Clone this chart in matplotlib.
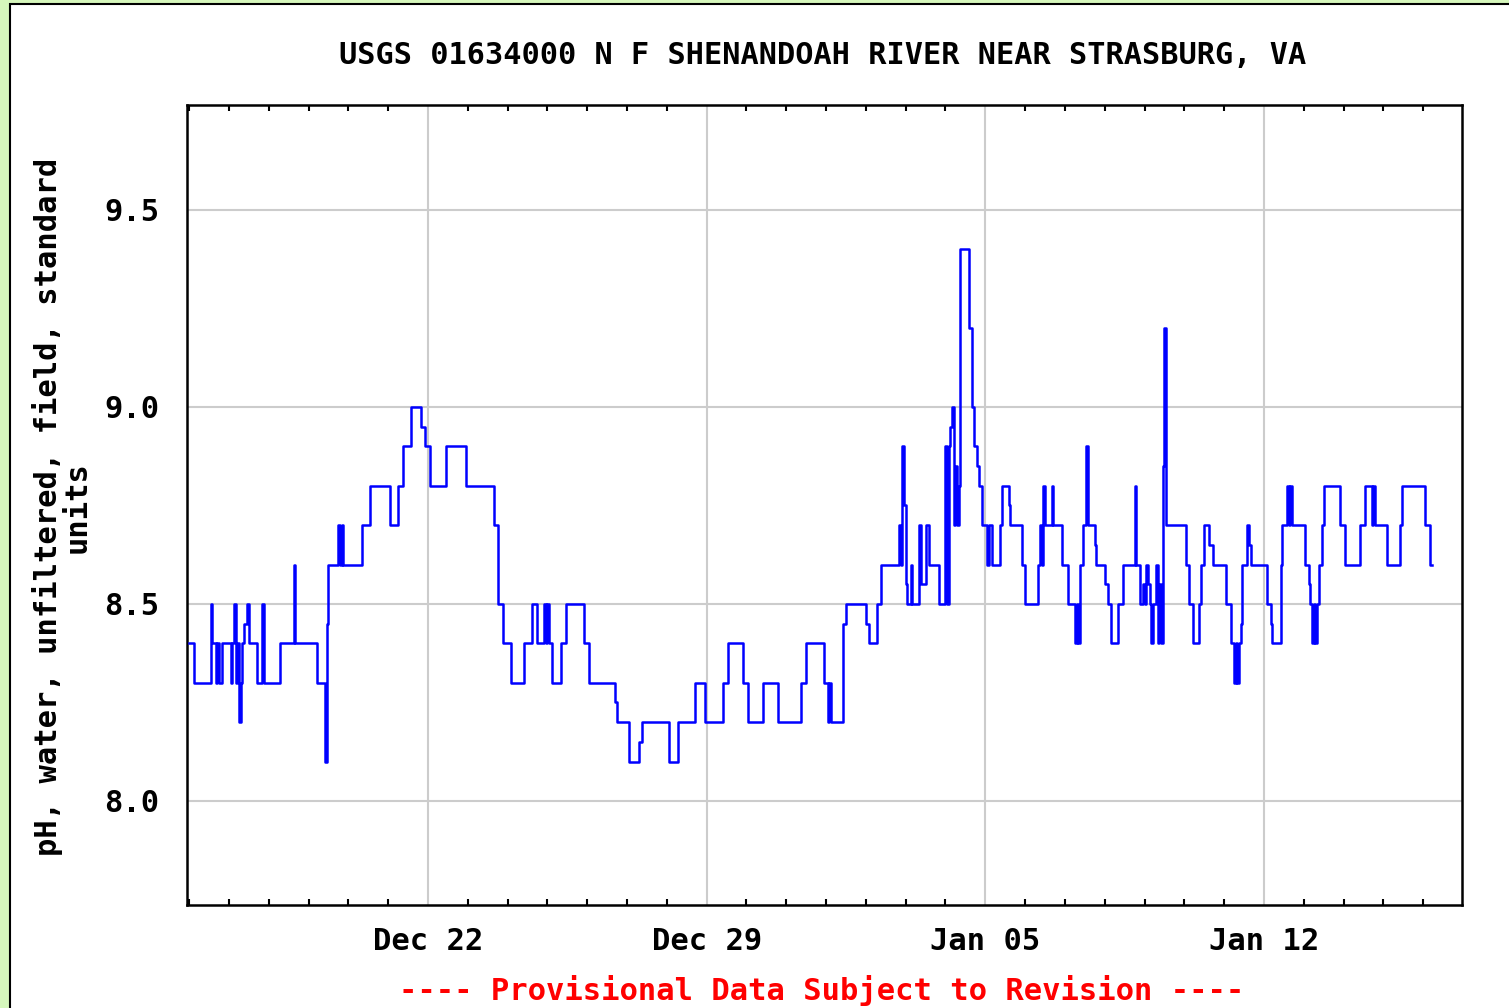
import pandas as pd
import matplotlib
matplotlib.use("Agg")
import matplotlib.pyplot as plt
import matplotlib.dates as mdates
from matplotlib.patches import Rectangle

# chart text
title = "USGS 01634000 N F SHENANDOAH RIVER NEAR STRASBURG, VA"
ylabel = "pH, water, unfiltered, field, standard\nunits"
footer = "---- Provisional Data Subject to Revision ----"

start = pd.Timestamp("2013-12-16 00:00")

# hours since start where the reading changes, and the reading from then on
hours = [0, 3, 13, 14, 16, 17, 18, 20, 25, 26, 27, 28, 29, 30, 31, 32, 33, 35, 36, 41,
         44, 45, 55, 63, 64, 77, 82, 83, 84, 90, 91, 92, 93, 104, 109, 121, 126, 129, 134, 140,
         142, 145, 155, 167, 184, 186, 189, 194, 202, 207, 210, 214, 215, 216, 217, 219, 224, 227, 238, 241,
         257, 258, 265, 271, 273, 289, 295, 305, 311, 322, 325, 334, 337, 346, 355, 369, 372, 383, 385, 386,
         387, 394, 396, 408, 410, 415, 417, 428, 429, 430, 431, 432, 433, 435, 436, 440, 441, 444, 446, 452,
         456, 457, 458, 459, 460, 461, 462, 463, 464, 465, 470, 472, 473, 475, 476, 478, 481, 482, 484, 489,
         490, 494, 495, 502, 504, 512, 513, 514, 515, 516, 520, 521, 526, 530, 534, 535, 536, 537, 539, 541,
         542, 546, 547, 552, 554, 556, 560, 563, 570, 571, 573, 575, 576, 577, 578, 579, 580, 581, 583, 584,
         585, 586, 587, 588, 589, 601, 603, 605, 609, 610, 612, 615, 617, 625, 628, 630, 631, 632, 633, 634,
         635, 638, 639, 640, 650, 652, 653, 658, 659, 662, 663, 664, 665, 673, 675, 676, 677, 678, 679, 680,
         681, 683, 684, 694, 697, 706, 709, 713, 714, 715, 722, 730, 731, 745, 748, 749.5]
ph = [8.4, 8.3, 8.5, 8.4, 8.3, 8.4, 8.3, 8.4, 8.3, 8.4, 8.5, 8.3, 8.4, 8.2, 8.3, 8.4, 8.45, 8.5, 8.4, 8.3,
      8.5, 8.3, 8.4, 8.6, 8.4, 8.3, 8.1, 8.45, 8.6, 8.7, 8.6, 8.7, 8.6, 8.7, 8.8, 8.7, 8.8, 8.9, 9.0, 8.95,
      8.9, 8.8, 8.9, 8.8, 8.7, 8.5, 8.4, 8.3, 8.4, 8.5, 8.4, 8.5, 8.4, 8.5, 8.4, 8.3, 8.4, 8.5, 8.4, 8.3,
      8.25, 8.2, 8.1, 8.15, 8.2, 8.1, 8.2, 8.3, 8.2, 8.3, 8.4, 8.3, 8.2, 8.3, 8.2, 8.3, 8.4, 8.3, 8.2, 8.3,
      8.2, 8.45, 8.5, 8.45, 8.4, 8.5, 8.6, 8.7, 8.6, 8.9, 8.75, 8.55, 8.5, 8.6, 8.5, 8.7, 8.55, 8.7, 8.6, 8.5,
      8.9, 8.5, 8.9, 8.95, 9.0, 8.7, 8.85, 8.7, 8.8, 9.4, 9.2, 9.0, 8.9, 8.85, 8.8, 8.7, 8.6, 8.7, 8.6, 8.7,
      8.8, 8.75, 8.7, 8.6, 8.5, 8.6, 8.7, 8.6, 8.8, 8.7, 8.8, 8.7, 8.6, 8.5, 8.4, 8.5, 8.4, 8.6, 8.7, 8.9,
      8.7, 8.65, 8.6, 8.55, 8.5, 8.4, 8.5, 8.6, 8.8, 8.6, 8.5, 8.55, 8.5, 8.6, 8.55, 8.5, 8.4, 8.5, 8.6, 8.4,
      8.55, 8.4, 8.85, 9.2, 8.7, 8.6, 8.5, 8.4, 8.5, 8.6, 8.7, 8.65, 8.6, 8.5, 8.4, 8.3, 8.4, 8.3, 8.4, 8.45,
      8.6, 8.7, 8.65, 8.6, 8.5, 8.45, 8.4, 8.6, 8.7, 8.8, 8.7, 8.8, 8.7, 8.6, 8.55, 8.5, 8.4, 8.5, 8.4, 8.5,
      8.6, 8.7, 8.8, 8.7, 8.6, 8.7, 8.8, 8.7, 8.8, 8.7, 8.6, 8.7, 8.8, 8.7, 8.6, 8.6]

yticks = [8.0, 8.5, 9.0, 9.5]

times = start + pd.to_timedelta(hours, unit="h")

plt.rcParams['font.family'] = ['DejaVu Sans Mono', 'DejaVu Sans']
plt.rcParams['font.weight'] = 'bold'

fig = plt.figure(figsize=(15.09, 10.08), dpi=100, facecolor='#d6f7bc')
# white panel with black border, cut off at the right and bottom
fig.patches.append(Rectangle((10 / 1509, -0.1), 1.2, 1.1 - 4 / 1008, transform=fig.transFigure,
                             facecolor='white', edgecolor='black', linewidth=1.5, zorder=-1))

ax = fig.add_axes([187 / 1509, 1 - 905 / 1008, (1462 - 187) / 1509, (905 - 105) / 1008])
ax.set_facecolor('white')

ax.step(times, ph, where='post', color='#0000ff', linewidth=1.8, zorder=3)

ax.set_xlim(start - pd.Timedelta(hours=1.3), start + pd.Timedelta(hours=767.4))
ax.set_ylim(7.736, 9.766)
ax.set_yticks(yticks)
ax.yaxis.set_major_formatter(plt.FormatStrFormatter('%.1f'))

ax.xaxis.set_major_locator(mdates.WeekdayLocator(byweekday=mdates.SU))
ax.xaxis.set_major_formatter(mdates.DateFormatter('%b %d'))
ax.xaxis.set_minor_locator(mdates.DayLocator())

ax.grid(True, which='major', color='#cccccc', linewidth=1.5, zorder=1)
ax.set_axisbelow(True)
ax.tick_params(which='major', length=0, labelsize=22, pad=20)
ax.tick_params(axis='x', which='major', pad=16)
ax.tick_params(axis='x', which='minor', direction='in', top=True, bottom=True,
               length=4, width=1.5, color='black')
for s in ax.spines.values():
    s.set_linewidth(1.8)
    s.set_color('black')

fig.text(823 / 1509, 1 - 55 / 1008, title, ha='center', va='center', fontsize=21.8, weight='bold')
fig.text(62 / 1509, 1 - 507 / 1008, ylabel, ha='center', va='center', rotation=90,
         fontsize=22, weight='bold', multialignment='center', linespacing=1.0)
fig.text(822 / 1509, 1 - 990 / 1008, footer, ha='center', va='center', fontsize=22,
         weight='bold', color='#ff0000')

fig.savefig('out.png', dpi=100, facecolor=fig.get_facecolor())
